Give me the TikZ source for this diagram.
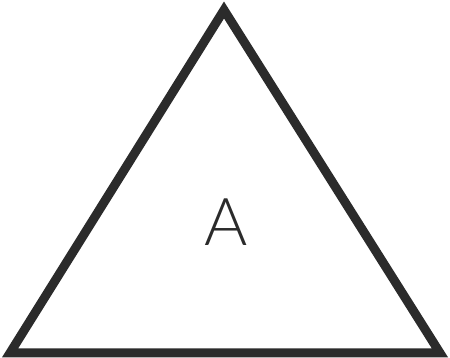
\documentclass[tikz,border=0pt]{standalone}
\usepackage{fontspec}
\setmainfont{Lato Light}
\definecolor{edge}{HTML}{2B2B2B}
\begin{document}
\begin{tikzpicture}[x=1pt,y=1pt,
  tri/.style={draw=edge,line width=9pt,line join=miter},
  lbl/.style={font=\fontsize{66}{66}\selectfont,text=edge,inner sep=0pt}]
\useasboundingbox[fill=white] (0,0) rectangle (450,358);
\coordinate (L) at (10,5);
\coordinate (R) at (440,5);
\coordinate (T) at (224,348);
\draw[tri] (L) -- (R) -- (T) -- cycle;
\node[lbl] (a) at (226,136) {A};
\end{tikzpicture}
\end{document}
